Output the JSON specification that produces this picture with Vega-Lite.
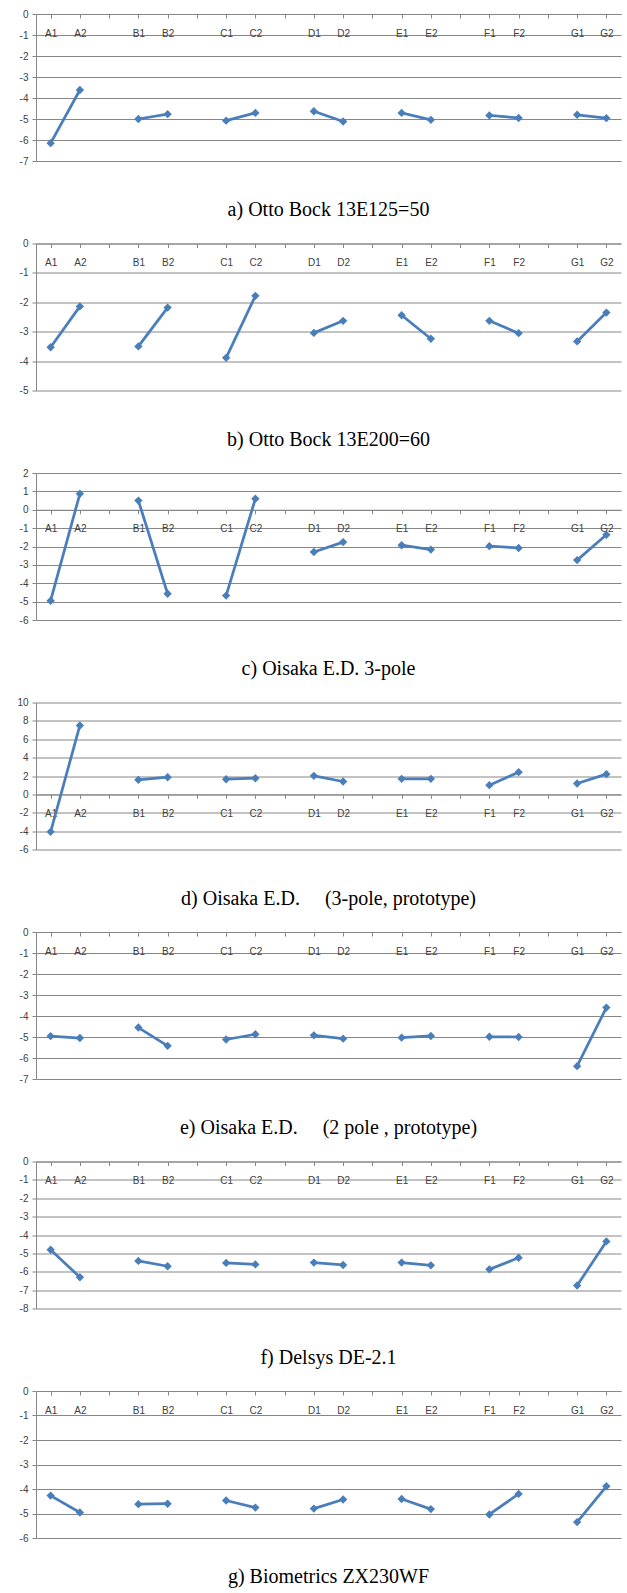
{
  "$schema": "https://vega.github.io/schema/vega-lite/v6.json",
  "background": "white",
  "padding": {"left": 16, "top": 9, "right": 5, "bottom": 3},
  "bounds": "flush",
  "spacing": 82.5,
  "config": {
    "view": {"stroke": null},
    "axis": {"labelFont": "Liberation Sans", "labelFontSize": 10, "labelColor": "#404040", "domainColor": "#868686", "tickColor": "#868686", "gridColor": "#868686", "gridOpacity": 1, "domainWidth": 1, "tickWidth": 1, "gridWidth": 1, "title": null},
    "axisX": {"tickBand": "extent", "labelAngle": 0, "tickSize": 4, "labelPadding": 15, "labelBaseline": "middle", "grid": false},
    "axisY": {"grid": true, "tickSize": 4, "labelPadding": 4},
    "title": {"font": "Liberation Serif", "fontSize": 20, "fontWeight": "normal", "color": "#000000", "orient": "bottom", "anchor": "middle", "offset": 34}
  },
  "data": {"values": [
    {"p":"a","g":"A","c":"A1","v":-6.15},{"p":"a","g":"A","c":"A2","v":-3.62},{"p":"a","g":"B","c":"B1","v":-5.0},{"p":"a","g":"B","c":"B2","v":-4.77},{"p":"a","g":"C","c":"C1","v":-5.08},{"p":"a","g":"C","c":"C2","v":-4.71},{"p":"a","g":"D","c":"D1","v":-4.63},{"p":"a","g":"D","c":"D2","v":-5.12},{"p":"a","g":"E","c":"E1","v":-4.71},{"p":"a","g":"E","c":"E2","v":-5.04},{"p":"a","g":"F","c":"F1","v":-4.83},{"p":"a","g":"F","c":"F2","v":-4.95},{"p":"a","g":"G","c":"G1","v":-4.8},{"p":"a","g":"G","c":"G2","v":-4.96},
    {"p":"b","g":"A","c":"A1","v":-3.53},{"p":"b","g":"A","c":"A2","v":-2.14},{"p":"b","g":"B","c":"B1","v":-3.5},{"p":"b","g":"B","c":"B2","v":-2.18},{"p":"b","g":"C","c":"C1","v":-3.89},{"p":"b","g":"C","c":"C2","v":-1.78},{"p":"b","g":"D","c":"D1","v":-3.04},{"p":"b","g":"D","c":"D2","v":-2.63},{"p":"b","g":"E","c":"E1","v":-2.44},{"p":"b","g":"E","c":"E2","v":-3.24},{"p":"b","g":"F","c":"F1","v":-2.63},{"p":"b","g":"F","c":"F2","v":-3.05},{"p":"b","g":"G","c":"G1","v":-3.33},{"p":"b","g":"G","c":"G2","v":-2.35},
    {"p":"c","g":"A","c":"A1","v":-4.95},{"p":"c","g":"A","c":"A2","v":0.87},{"p":"c","g":"B","c":"B1","v":0.5},{"p":"c","g":"B","c":"B2","v":-4.57},{"p":"c","g":"C","c":"C1","v":-4.67},{"p":"c","g":"C","c":"C2","v":0.6},{"p":"c","g":"D","c":"D1","v":-2.3},{"p":"c","g":"D","c":"D2","v":-1.76},{"p":"c","g":"E","c":"E1","v":-1.93},{"p":"c","g":"E","c":"E2","v":-2.17},{"p":"c","g":"F","c":"F1","v":-1.98},{"p":"c","g":"F","c":"F2","v":-2.08},{"p":"c","g":"G","c":"G1","v":-2.74},{"p":"c","g":"G","c":"G2","v":-1.36},
    {"p":"d","g":"A","c":"A1","v":-4.08},{"p":"d","g":"A","c":"A2","v":7.5},{"p":"d","g":"B","c":"B1","v":1.58},{"p":"d","g":"B","c":"B2","v":1.87},{"p":"d","g":"C","c":"C1","v":1.65},{"p":"d","g":"C","c":"C2","v":1.76},{"p":"d","g":"D","c":"D1","v":2.02},{"p":"d","g":"D","c":"D2","v":1.4},{"p":"d","g":"E","c":"E1","v":1.69},{"p":"d","g":"E","c":"E2","v":1.69},{"p":"d","g":"F","c":"F1","v":1.0},{"p":"d","g":"F","c":"F2","v":2.42},{"p":"d","g":"G","c":"G1","v":1.18},{"p":"d","g":"G","c":"G2","v":2.2},
    {"p":"e","g":"A","c":"A1","v":-4.96},{"p":"e","g":"A","c":"A2","v":-5.05},{"p":"e","g":"B","c":"B1","v":-4.55},{"p":"e","g":"B","c":"B2","v":-5.42},{"p":"e","g":"C","c":"C1","v":-5.12},{"p":"e","g":"C","c":"C2","v":-4.87},{"p":"e","g":"D","c":"D1","v":-4.92},{"p":"e","g":"D","c":"D2","v":-5.08},{"p":"e","g":"E","c":"E1","v":-5.03},{"p":"e","g":"E","c":"E2","v":-4.95},{"p":"e","g":"F","c":"F1","v":-4.99},{"p":"e","g":"F","c":"F2","v":-5.0},{"p":"e","g":"G","c":"G1","v":-6.39},{"p":"e","g":"G","c":"G2","v":-3.6},
    {"p":"f","g":"A","c":"A1","v":-4.8},{"p":"f","g":"A","c":"A2","v":-6.3},{"p":"f","g":"B","c":"B1","v":-5.41},{"p":"f","g":"B","c":"B2","v":-5.7},{"p":"f","g":"C","c":"C1","v":-5.52},{"p":"f","g":"C","c":"C2","v":-5.6},{"p":"f","g":"D","c":"D1","v":-5.5},{"p":"f","g":"D","c":"D2","v":-5.63},{"p":"f","g":"E","c":"E1","v":-5.5},{"p":"f","g":"E","c":"E2","v":-5.65},{"p":"f","g":"F","c":"F1","v":-5.87},{"p":"f","g":"F","c":"F2","v":-5.24},{"p":"f","g":"G","c":"G1","v":-6.75},{"p":"f","g":"G","c":"G2","v":-4.35},
    {"p":"g","g":"A","c":"A1","v":-4.27},{"p":"g","g":"A","c":"A2","v":-4.96},{"p":"g","g":"B","c":"B1","v":-4.62},{"p":"g","g":"B","c":"B2","v":-4.6},{"p":"g","g":"C","c":"C1","v":-4.47},{"p":"g","g":"C","c":"C2","v":-4.76},{"p":"g","g":"D","c":"D1","v":-4.8},{"p":"g","g":"D","c":"D2","v":-4.43},{"p":"g","g":"E","c":"E1","v":-4.41},{"p":"g","g":"E","c":"E2","v":-4.82},{"p":"g","g":"F","c":"F1","v":-5.04},{"p":"g","g":"F","c":"F2","v":-4.2},{"p":"g","g":"G","c":"G1","v":-5.35},{"p":"g","g":"G","c":"G2","v":-3.89}
  ]},
  "vconcat": [
    {
      "width": 585, "height": 147,
      "title": "a) Otto Bock 13E125=50",
      "transform": [{"filter": "datum.p == 'a'"}],
      "encoding": {
        "x": {"field": "c", "type": "nominal", "scale": {"domain": ["A1","A2","_1","B1","B2","_2","C1","C2","_3","D1","D2","_4","E1","E2","_5","F1","F2","_6","G1","G2"], "paddingInner": 0, "paddingOuter": 0}, "axis": {"offset": -147, "labelExpr": "indexof(datum.label, '_') == 0 ? '' : datum.label"}},
        "y": {"field": "v", "type": "quantitative", "scale": {"domain": [-7, 0], "nice": false, "zero": false}, "axis": {"values": [-7,-6,-5,-4,-3,-2,-1,0], "labelExpr": "datum.value + ''"}},
        "detail": {"field": "g"}
      },
      "layer": [
        {"mark": {"type": "line", "color": "#4a7ebb", "strokeWidth": 2.75}},
        {"mark": {"type": "point", "shape": "diamond", "filled": true, "size": 70, "color": "#4a7ebb", "opacity": 1}}
      ]
    },
    {
      "width": 585, "height": 147,
      "title": "b) Otto Bock 13E200=60",
      "transform": [{"filter": "datum.p == 'b'"}],
      "encoding": {
        "x": {"field": "c", "type": "nominal", "scale": {"domain": ["A1","A2","_1","B1","B2","_2","C1","C2","_3","D1","D2","_4","E1","E2","_5","F1","F2","_6","G1","G2"], "paddingInner": 0, "paddingOuter": 0}, "axis": {"offset": -147, "labelExpr": "indexof(datum.label, '_') == 0 ? '' : datum.label"}},
        "y": {"field": "v", "type": "quantitative", "scale": {"domain": [-5, 0], "nice": false, "zero": false}, "axis": {"values": [-5,-4,-3,-2,-1,0], "labelExpr": "datum.value + ''"}},
        "detail": {"field": "g"}
      },
      "layer": [
        {"mark": {"type": "line", "color": "#4a7ebb", "strokeWidth": 2.75}},
        {"mark": {"type": "point", "shape": "diamond", "filled": true, "size": 70, "color": "#4a7ebb", "opacity": 1}}
      ]
    },
    {
      "width": 585, "height": 147,
      "title": "c) Oisaka E.D. 3-pole",
      "transform": [{"filter": "datum.p == 'c'"}],
      "encoding": {
        "x": {"field": "c", "type": "nominal", "scale": {"domain": ["A1","A2","_1","B1","B2","_2","C1","C2","_3","D1","D2","_4","E1","E2","_5","F1","F2","_6","G1","G2"], "paddingInner": 0, "paddingOuter": 0}, "axis": {"offset": -110.25, "labelExpr": "indexof(datum.label, '_') == 0 ? '' : datum.label"}},
        "y": {"field": "v", "type": "quantitative", "scale": {"domain": [-6, 2], "nice": false, "zero": false}, "axis": {"values": [-6,-5,-4,-3,-2,-1,0,1,2], "labelExpr": "datum.value + ''"}},
        "detail": {"field": "g"}
      },
      "layer": [
        {"mark": {"type": "line", "color": "#4a7ebb", "strokeWidth": 2.75}},
        {"mark": {"type": "point", "shape": "diamond", "filled": true, "size": 70, "color": "#4a7ebb", "opacity": 1}}
      ]
    },
    {
      "width": 585, "height": 147,
      "title": "d) Oisaka E.D.\u00a0\u00a0\u00a0\u00a0\u00a0(3-pole, prototype)",
      "transform": [{"filter": "datum.p == 'd'"}],
      "encoding": {
        "x": {"field": "c", "type": "nominal", "scale": {"domain": ["A1","A2","_1","B1","B2","_2","C1","C2","_3","D1","D2","_4","E1","E2","_5","F1","F2","_6","G1","G2"], "paddingInner": 0, "paddingOuter": 0}, "axis": {"offset": -55.125, "labelExpr": "indexof(datum.label, '_') == 0 ? '' : datum.label"}},
        "y": {"field": "v", "type": "quantitative", "scale": {"domain": [-6, 10], "nice": false, "zero": false}, "axis": {"values": [-6,-4,-2,0,2,4,6,8,10], "labelExpr": "datum.value + ''"}},
        "detail": {"field": "g"}
      },
      "layer": [
        {"mark": {"type": "line", "color": "#4a7ebb", "strokeWidth": 2.75}},
        {"mark": {"type": "point", "shape": "diamond", "filled": true, "size": 70, "color": "#4a7ebb", "opacity": 1}}
      ]
    },
    {
      "width": 585, "height": 147,
      "title": "e) Oisaka E.D.\u00a0\u00a0\u00a0\u00a0\u00a0(2 pole , prototype)",
      "transform": [{"filter": "datum.p == 'e'"}],
      "encoding": {
        "x": {"field": "c", "type": "nominal", "scale": {"domain": ["A1","A2","_1","B1","B2","_2","C1","C2","_3","D1","D2","_4","E1","E2","_5","F1","F2","_6","G1","G2"], "paddingInner": 0, "paddingOuter": 0}, "axis": {"offset": -147, "labelExpr": "indexof(datum.label, '_') == 0 ? '' : datum.label"}},
        "y": {"field": "v", "type": "quantitative", "scale": {"domain": [-7, 0], "nice": false, "zero": false}, "axis": {"values": [-7,-6,-5,-4,-3,-2,-1,0], "labelExpr": "datum.value + ''"}},
        "detail": {"field": "g"}
      },
      "layer": [
        {"mark": {"type": "line", "color": "#4a7ebb", "strokeWidth": 2.75}},
        {"mark": {"type": "point", "shape": "diamond", "filled": true, "size": 70, "color": "#4a7ebb", "opacity": 1}}
      ]
    },
    {
      "width": 585, "height": 147,
      "title": "f) Delsys DE-2.1",
      "transform": [{"filter": "datum.p == 'f'"}],
      "encoding": {
        "x": {"field": "c", "type": "nominal", "scale": {"domain": ["A1","A2","_1","B1","B2","_2","C1","C2","_3","D1","D2","_4","E1","E2","_5","F1","F2","_6","G1","G2"], "paddingInner": 0, "paddingOuter": 0}, "axis": {"offset": -147, "labelExpr": "indexof(datum.label, '_') == 0 ? '' : datum.label"}},
        "y": {"field": "v", "type": "quantitative", "scale": {"domain": [-8, 0], "nice": false, "zero": false}, "axis": {"values": [-8,-7,-6,-5,-4,-3,-2,-1,0], "labelExpr": "datum.value + ''"}},
        "detail": {"field": "g"}
      },
      "layer": [
        {"mark": {"type": "line", "color": "#4a7ebb", "strokeWidth": 2.75}},
        {"mark": {"type": "point", "shape": "diamond", "filled": true, "size": 70, "color": "#4a7ebb", "opacity": 1}}
      ]
    },
    {
      "width": 585, "height": 147,
      "title": {"text": "g) Biometrics ZX230WF", "offset": 24},
      "transform": [{"filter": "datum.p == 'g'"}],
      "encoding": {
        "x": {"field": "c", "type": "nominal", "scale": {"domain": ["A1","A2","_1","B1","B2","_2","C1","C2","_3","D1","D2","_4","E1","E2","_5","F1","F2","_6","G1","G2"], "paddingInner": 0, "paddingOuter": 0}, "axis": {"offset": -147, "labelExpr": "indexof(datum.label, '_') == 0 ? '' : datum.label"}},
        "y": {"field": "v", "type": "quantitative", "scale": {"domain": [-6, 0], "nice": false, "zero": false}, "axis": {"values": [-6,-5,-4,-3,-2,-1,0], "labelExpr": "datum.value + ''"}},
        "detail": {"field": "g"}
      },
      "layer": [
        {"mark": {"type": "line", "color": "#4a7ebb", "strokeWidth": 2.75}},
        {"mark": {"type": "point", "shape": "diamond", "filled": true, "size": 70, "color": "#4a7ebb", "opacity": 1}}
      ]
    }
  ]
}
